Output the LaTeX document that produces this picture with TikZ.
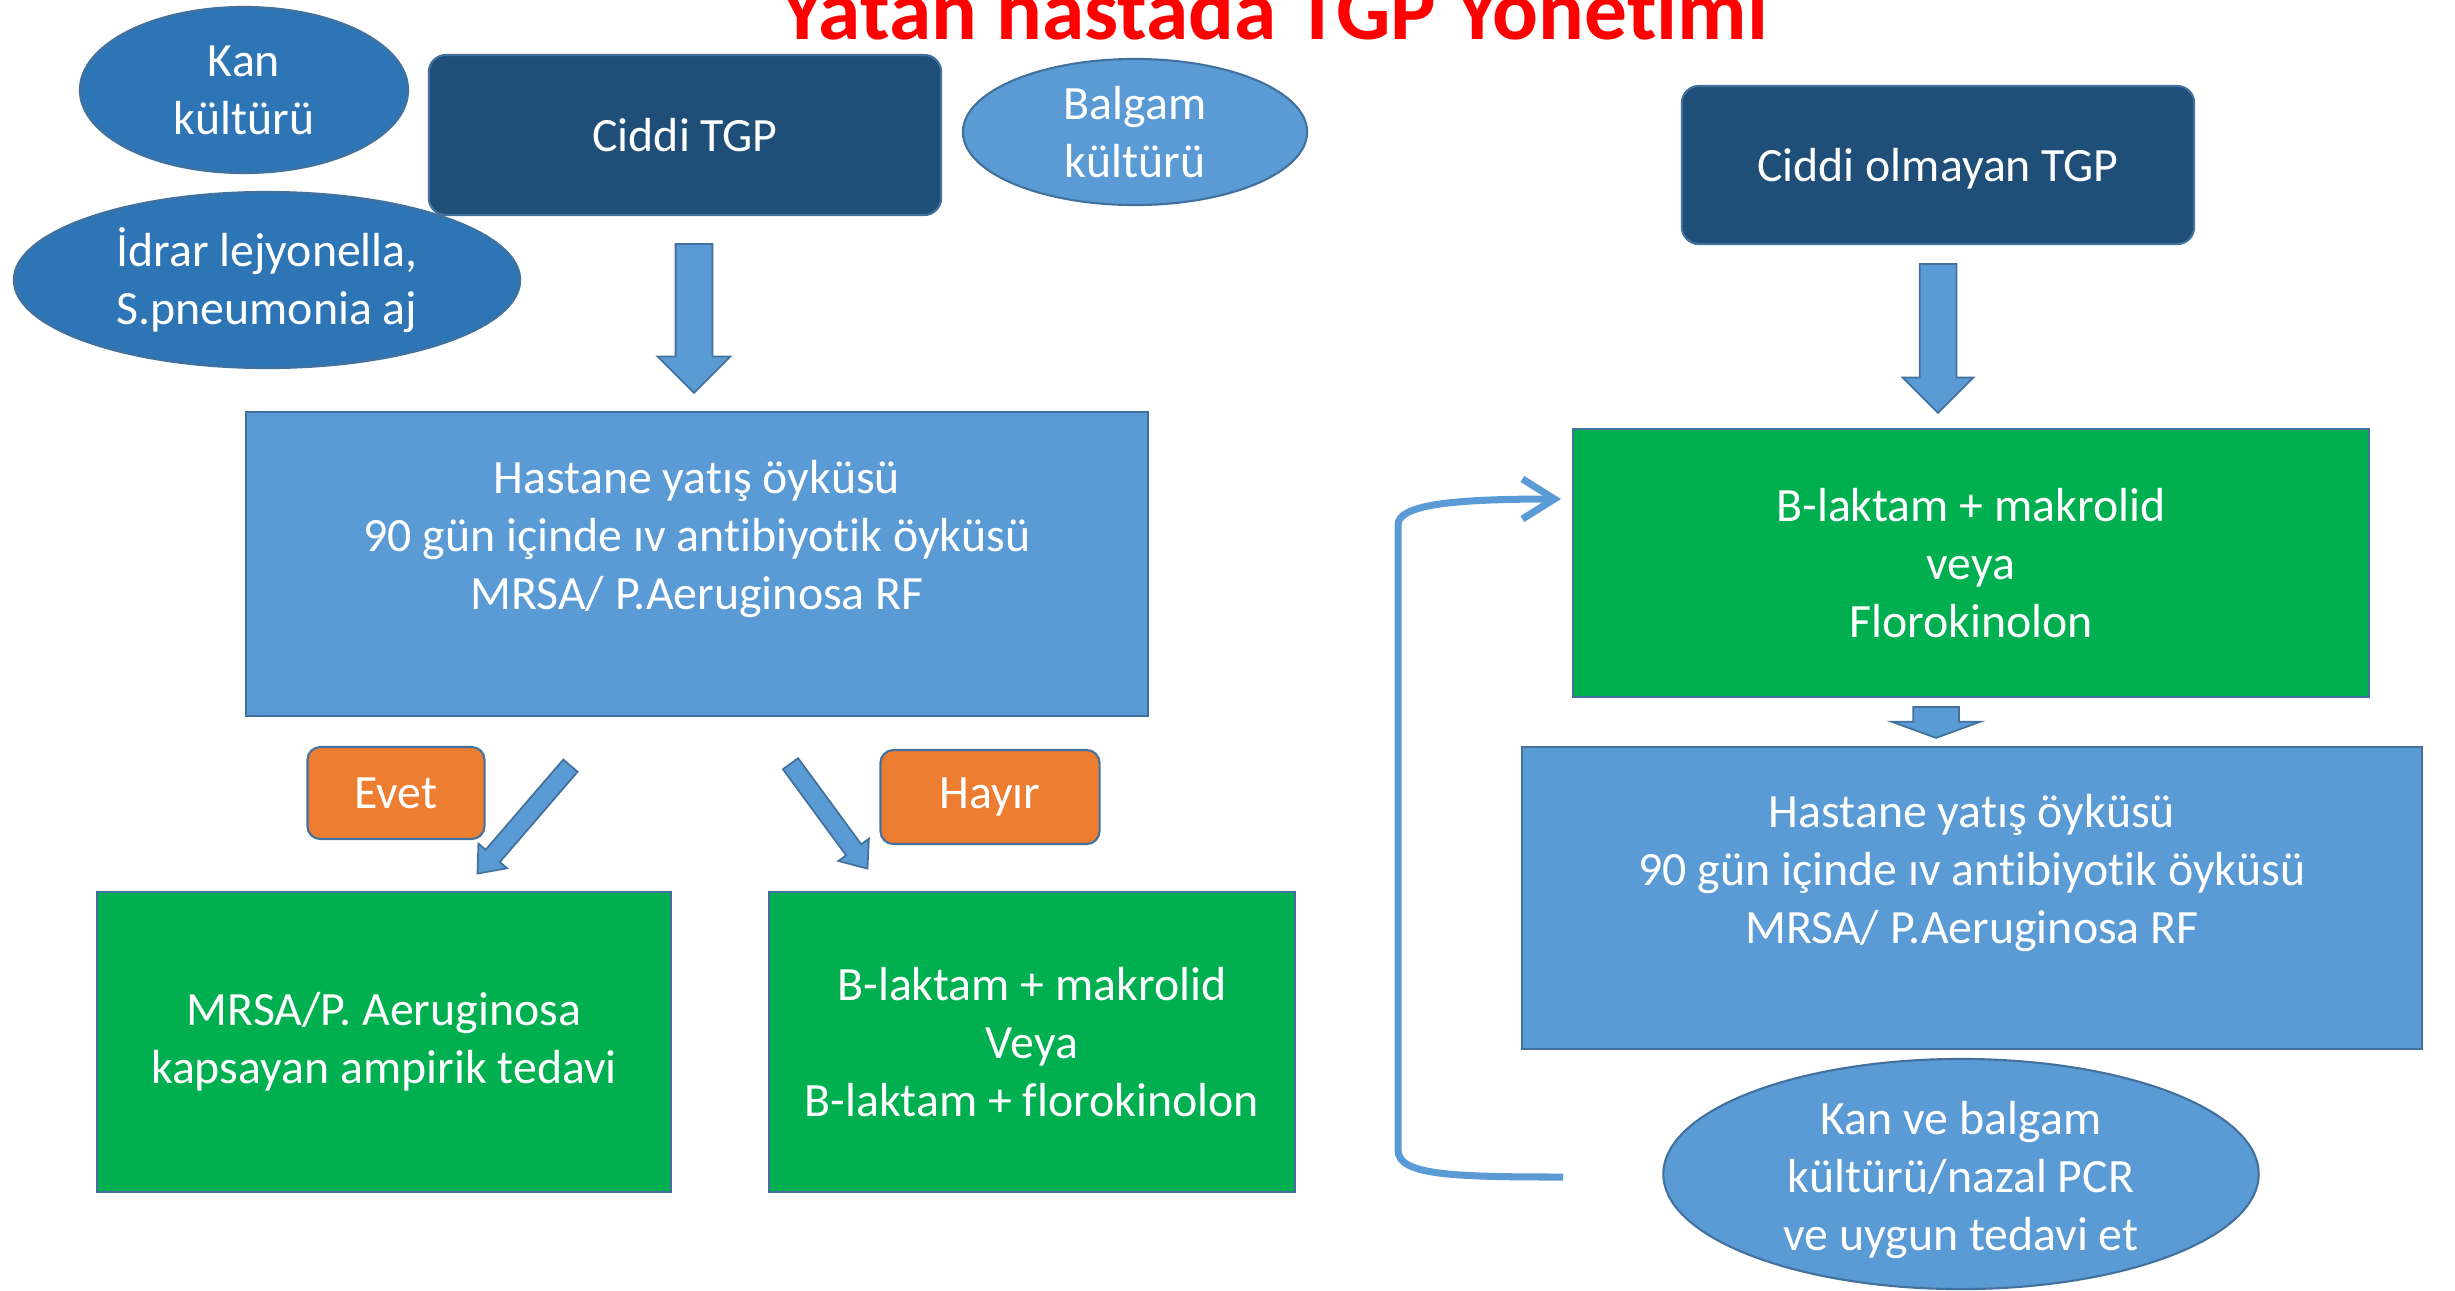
\documentclass[tikz,border=0pt]{standalone}
\usepackage{fontspec}
\setmainfont{Carlito}[Ligatures=NoCommon]
\usetikzlibrary{arrows.meta, calc, shapes.geometric, shapes.arrows}

\definecolor{navy}{HTML}{1F4E79}
\definecolor{midblue}{HTML}{2E75B6}
\definecolor{lightblue}{HTML}{5B9BD5}
\definecolor{edgeblue}{HTML}{41719C}
\definecolor{okgreen}{HTML}{00B050}
\definecolor{answer}{HTML}{ED7D31}

\newcommand{\bodyfont}{\fontsize{13.6}{16.5}\selectfont}
\newcommand{\titlefont}{\fontsize{24.3}{28}\selectfont\bfseries}

\tikzset{
fatArrow/.style={single arrow, draw=edgeblue, fill=lightblue, line width=0.5pt, inner xsep=0pt}
}
% block arrow between two points: name, from, to, options
\newcommand{\blockarrow}[4]{%
	\path let \p1=($(#3)-(#2)$), \n1={veclen(\x1,\y1)}, \n2={atan2(\y1,\x1)} in
		node[fatArrow, #4, rotate=\n2, minimum height=\n1, anchor=tail] (#1) at (#2) {};}

\begin{document}
\begin{tikzpicture}[x=0.01cm, y=-0.01cm]
		\tikzset{box/.style = {shape=rectangle, draw=edgeblue, line width=0.6pt, text=white, align=center, font=\bodyfont}}
		\tikzset{roundbox/.style = {box, rounded corners=0.17cm}}
		\tikzset{oval/.style = {shape=ellipse, draw=edgeblue, line width=0.6pt, inner sep=0pt}}
		\tikzset{txt/.style = {text=white, align=center, font=\bodyfont}}
		\tikzset{back/.style = {draw=lightblue, line width=2pt, -{Straight Barb[length=3.2mm, width=4mm]}}}

		\useasboundingbox (0,0) rectangle (2455,1290);

		\node[text=red, font=\titlefont, anchor=base] (title) at (1274,39) {Yatan hastada TGP Yönetimi};

		% left column: severe
		\node[oval, fill=midblue, minimum width=3.28cm, minimum height=1.66cm, label={[txt]center:Kan\\kültürü}] (kan) at (244,90) {};
		\node[roundbox, fill=navy, minimum width=5.12cm, minimum height=1.6cm] (ciddi) at (685,135) {Ciddi TGP};
		\node[oval, fill=lightblue, minimum width=3.44cm, minimum height=1.46cm, label={[txt]center:Balgam\\kültürü}] (balgam) at (1135,132) {};
		\node[oval, fill=midblue, minimum width=5.06cm, minimum height=1.76cm, label={[txt]center:İdrar lejyonella,\\S.pneumonia aj}] (idrar) at (267,280) {};

		\node[box, fill=lightblue, minimum width=9.01cm, minimum height=3.04cm] (risk1) at (697,564)
			{Hastane yatış öyküsü\\90 gün içinde ıv antibiyotik öyküsü\\MRSA/ P.Aeruginosa RF\\\mbox{}};

		\node[roundbox, fill=answer, rounded corners=0.13cm, minimum width=1.77cm, minimum height=0.92cm] (evet) at (396,793) {Evet};
		\node[roundbox, fill=answer, rounded corners=0.13cm, minimum width=2.19cm, minimum height=0.94cm] (hayir) at (990,797) {Hayır};

		\node[box, fill=okgreen, minimum width=5.73cm, minimum height=2.99cm] (mrsa) at (384,1042)
			{MRSA/P. Aeruginosa\\kapsayan ampirik tedavi};
		\node[box, fill=okgreen, minimum width=5.25cm, minimum height=2.99cm] (kombi) at (1032,1042)
			{B-laktam + makrolid\\Veya\\B-laktam + florokinolon};

		% right column: not severe
		\node[roundbox, fill=navy, minimum width=5.12cm, minimum height=1.58cm, text depth=0pt] (hafif) at (1938,165) {Ciddi olmayan TGP};
		\node[box, fill=okgreen, minimum width=7.95cm, minimum height=2.68cm] (tedavi) at (1971,563)
			{B-laktam + makrolid\\veya\\Florokinolon};
		\node[box, fill=lightblue, minimum width=9.0cm, minimum height=3.02cm] (risk2) at (1972,898)
			{Hastane yatış öyküsü\\90 gün içinde ıv antibiyotik öyküsü\\MRSA/ P.Aeruginosa RF\\\mbox{}};
		\node[oval, fill=lightblue, minimum width=5.95cm, minimum height=2.3cm, label={[txt, yshift=-0.06cm]center:Kan ve balgam\\kültürü/nazal PCR\\ve uygun tedavi et}] (kontrol) at (1961,1174) {};

		% arrow ends
		\coordinate (a1s) at (694,243);
		\coordinate (a1e) at (694,392);
		\coordinate (a2s) at (1938,263);
		\coordinate (a2e) at (1938,412);
		\coordinate (a3s) at (1936,706);
		\coordinate (a3e) at (1936,737);
		\coordinate (evS) at (571,765);
		\coordinate (evE) at (478,873);
		\coordinate (hyS) at (790,763);
		\coordinate (hyE) at (867,868);
		\coordinate (loopS) at (1563,1177);
		\coordinate (loopE) at (1561,499);

		\blockarrow{arr1}{a1s}{a1e}{inner ysep=0.175cm, single arrow head extend=0.18cm, single arrow tip angle=90}
		\blockarrow{arr2}{a2s}{a2e}{inner ysep=0.175cm, single arrow head extend=0.17cm, single arrow tip angle=90}
		\blockarrow{arr3}{a3s}{a3e}{inner ysep=0.22cm, single arrow head extend=0.215cm, single arrow tip angle=140}
		\blockarrow{arrEvet}{evS}{evE}{inner ysep=0.085cm, single arrow head extend=0.095cm, single arrow tip angle=78}
		\blockarrow{arrHayir}{hyS}{hyE}{inner ysep=0.085cm, single arrow head extend=0.095cm, single arrow tip angle=78}

		\draw[back] (loopS) .. controls (1450,1177) and (1398,1175) .. (1398,1150)
			-- (1398,525) .. controls (1398,505) and (1450,499) .. (loopE);

	\end{tikzpicture}
\end{document}
